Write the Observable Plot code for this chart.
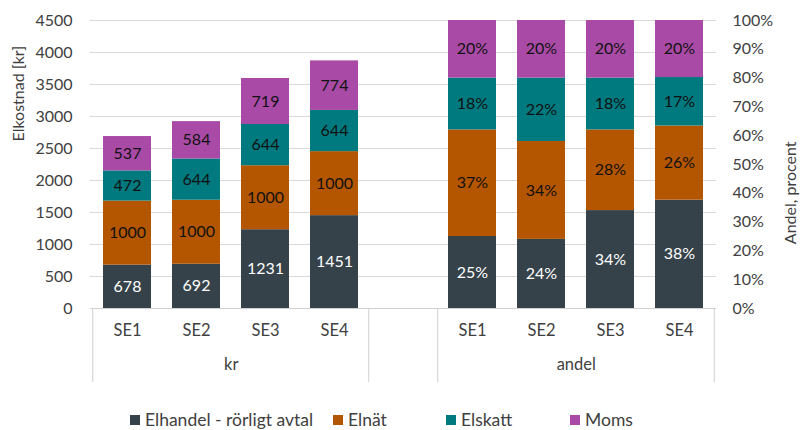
<!DOCTYPE html>
<html><head><meta charset="utf-8">
<script src="https://cdn.jsdelivr.net/npm/d3@7"></script>
<script src="https://cdn.jsdelivr.net/npm/@observablehq/plot@0.6"></script>
<style>
body{margin:0;background:#fff;font-family:Lato, "Open Sans", sans-serif;}
#chart{position:relative;width:801px;height:430px;overflow:hidden;background:#fff}
#chart svg{position:absolute;left:0;top:0}
.legend{position:absolute;top:410px;left:0;width:801px;height:20px;font-size:17.5px;color:#404040}
.item{position:absolute;top:0;display:flex;align-items:center;white-space:nowrap;line-height:20px}
.sw{width:10px;height:10px;margin-right:5px}
</style></head><body><div id="chart"></div>
<script>
// ---- data ----
const regions = ["SE1", "SE2", "SE3", "SE4"];
const groups = ["kr", "andel"];
const series = ["Elhandel - rörligt avtal", "Elnät", "Elskatt", "Moms"];
const colors = ["#36424A", "#B45500", "#00797F", "#A94BA6"];
const krElhandel = [678, 692, 1231, 1451];
const krElnat = [1000, 1000, 1000, 1000];
const krElskatt = [472, 644, 644, 644];
const krMoms = [537, 584, 719, 774];
const pctElhandel = [25, 24, 34, 38];
const pctElnat = [37, 34, 28, 26];
const pctElskatt = [18, 22, 18, 17];
const pctMoms = [20, 20, 20, 20];
const yTicks = d3.range(0, 4501, 500);
const pctTicks = d3.range(0, 101, 10);
const legendX = [130, 333, 446, 570];

// ---- build tables ----
const gap = "gap";
const slots = [...regions.map(r => "kr|" + r), gap, ...regions.map(r => "andel|" + r)];
const krSeries = [krElhandel, krElnat, krElskatt, krMoms];
const pctSeries = [pctElhandel, pctElnat, pctElskatt, pctMoms];
const krRows = [], pctRows = [];
regions.forEach((r, i) => {
  series.forEach((s, k) => {
    krRows.push({slot: "kr|" + r, series: s, y: krSeries[k][i], label: String(krSeries[k][i])});
    pctRows.push({slot: "andel|" + r, series: s, y: pctSeries[k][i], label: pctSeries[k][i] + "%"});
  });
});

// ---- layout ----
const W = 801, H = 395;
const mL = 90, mR = 85, mT = 20, mB = 87;
const step = (W - mL - mR) / slots.length;
const frameH = H - mT - mB;
const font = "Lato, 'Open Sans', sans-serif";
const axisColor = "#404040";
const common = {
  width: W, height: H,
  marginLeft: mL, marginRight: mR, marginTop: mT, marginBottom: mB,
  x: {domain: slots, paddingInner: 0.3, paddingOuter: 0.15, axis: null},
  color: {domain: series, range: colors}
};
const isBase = d => d.series === series[0];

// left plot: kr values, grid, category axis
const chartA = Plot.plot({
  ...common,
  style: {fontFamily: font, fontSize: "16px", background: "white"},
  y: {domain: [0, 4500], axis: null},
  marks: [
    Plot.gridY(yTicks, {stroke: "#d9d9d9", strokeOpacity: 1}),
    Plot.barY(krRows, {x: "slot", y: "y", fill: "series", order: series}),
    Plot.text(krRows, Plot.stackY({x: "slot", y: "y", z: "series", order: series, text: d => isBase(d) ? d.label : "", fill: "white", fontSize: 16})),
    Plot.text(krRows, Plot.stackY({x: "slot", y: "y", z: "series", order: series, text: d => isBase(d) ? "" : d.label, fill: "#111", fontSize: 16})),
    Plot.ruleY([0], {stroke: "#d0d0d0"}),
    Plot.ruleX([slots[0], gap, slots[5]], {dx: -step / 2, stroke: "#d0d0d0", insetTop: frameH, insetBottom: -74}),
    Plot.ruleX([slots[slots.length - 1]], {dx: step / 2, stroke: "#d0d0d0", insetTop: frameH, insetBottom: -74}),
    Plot.axisY({ticks: yTicks, tickSize: 0, tickPadding: 18, label: null, fontSize: 16, color: axisColor, tickFormat: d => String(d)}),
    Plot.axisX({tickSize: 0, tickPadding: 16, label: null, fontSize: 16.5, color: axisColor,
      tickFormat: s => s === gap ? "" : s.split("|")[1]}),
    Plot.text(groups, {x: ["kr|SE2", "andel|SE2"], dx: step / 2, frameAnchor: "bottom", dy: 61, text: d => d, fill: axisColor, fontSize: 16.5}),
    Plot.text(["Elkostnad [kr]"], {frameAnchor: "left", dx: -72, dy: -23, rotate: -90, text: d => d, fill: axisColor, fontSize: 16}),
    Plot.text(["Andel, procent"], {frameAnchor: "right", dx: 74, dy: -23, rotate: -90, text: d => d, fill: axisColor, fontSize: 16})
  ]
});

// right plot (overlay): shares, normalized to 100%
const chartB = Plot.plot({
  ...common,
  style: {fontFamily: font, fontSize: "16px", background: "transparent"},
  y: {domain: [0, 1], axis: null},
  marks: [
    Plot.barY(pctRows, Plot.stackY({x: "slot", y: "y", fill: "series", order: series, offset: "normalize"})),
    Plot.text(pctRows, Plot.stackY({x: "slot", y: "y", z: "series", order: series, offset: "normalize", text: d => isBase(d) ? d.label : "", fill: "white", fontSize: 16})),
    Plot.text(pctRows, Plot.stackY({x: "slot", y: "y", z: "series", order: series, offset: "normalize", text: d => isBase(d) ? "" : d.label, fill: "#111", fontSize: 16})),
    Plot.axisY(pctTicks.map(p => p / 100), {anchor: "right", tickSize: 0, tickPadding: 16, label: null, fontSize: 16, color: axisColor,
      tickFormat: d => Math.round(d * 100) + "%"})
  ]
});

const root = document.getElementById("chart");
root.appendChild(chartA);
root.appendChild(chartB);

const leg = document.createElement("div");
leg.className = "legend";
series.forEach((s, k) => {
  const it = document.createElement("div");
  it.className = "item";
  it.style.left = legendX[k] + "px";
  const sw = document.createElement("span");
  sw.className = "sw";
  sw.style.background = colors[k];
  const tx = document.createElement("span");
  tx.textContent = s;
  it.appendChild(sw); it.appendChild(tx);
  leg.appendChild(it);
});
root.appendChild(leg);
</script>
</body></html>
